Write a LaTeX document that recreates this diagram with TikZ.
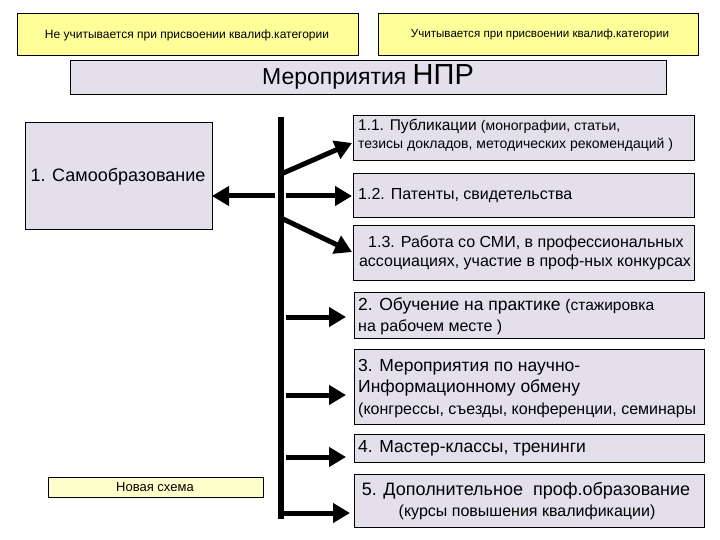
\documentclass[tikz,border=0pt]{standalone}
\usepackage{fontspec}
\setmainfont{Liberation Sans}
\usetikzlibrary{arrows.meta}
\definecolor{yel}{HTML}{FFFF99}
\definecolor{lyel}{HTML}{FFFFCC}
\definecolor{lav}{HTML}{E3E0EC}
\newcommand\myfs[1]{\fontsize{#1}{#1}\selectfont}
\begin{document}
\begin{tikzpicture}[x=1pt,y=-1pt,
  lbox/.style={draw=black, line width=0.9pt, fill=lav},
  ybox/.style={draw=black, line width=0.9pt, fill=yel},
  nbox/.style={draw=black, line width=0.9pt, fill=lyel},
  txt/.style={inner sep=0pt, anchor=west},
  ctxt/.style={inner sep=0pt},
  arr/.style={line width=5pt, -{Triangle[length=17pt,width=19pt]}},
  bar/.style={line width=6pt}]
\useasboundingbox[fill=white] (0,0) rectangle (720,540);
% top boxes
\draw[ybox] (17,13) rectangle (358,55);
\draw[ybox] (378,13) rectangle (698,55);
\node[ctxt] (t1) at (187,35) {\myfs{12}Не учитывается при присвоении квалиф.категории};
\node[ctxt] (t2) at (540,35) {\myfs{11.6}Учитывается при присвоении квалиф.категории};
% header
\draw[lbox] (70,60) rectangle (666,94);
\node[ctxt] (npr) at (368,77) {\myfs{23}Мероприятия \myfs{29}НПР};
% self-education
\draw[lbox] (25,122) rectangle (212,229);
\node[ctxt] (self) at (118,177) {\myfs{18}1. Самообразование};
\coordinate (selfE) at (212,196);
% right boxes
\draw[lbox] (353,115) rectangle (694,160);
\node[txt] (a1) at (358,126) {\myfs{15.5}1.1. Публикации \myfs{14}(монографии, статьи,};
\node[txt] (a2) at (358,145) {\myfs{14}тезисы докладов, методических рекомендаций )};
\coordinate (b11W) at (352,143);
\draw[lbox] (353,173) rectangle (694,217);
\node[txt] (b) at (358,196) {\myfs{16}1.2. Патенты, свидетельства};
\coordinate (b12W) at (352,196);
\draw[lbox] (353,225) rectangle (694,280);
\node[ctxt] (c1) at (526,243) {\myfs{16}1.3. Работа со СМИ, в профессиональных};
\node[ctxt] (c2) at (525,262) {\myfs{16}ассоциациях, участие в проф-ных конкурсах};
\coordinate (b13W) at (352,252);
\draw[lbox] (354,292) rectangle (704,338);
\node[txt] (d1) at (358,306) {\myfs{17.5}2. Обучение на практике \myfs{15.5}(стажировка};
\node[txt] (d2) at (358,327) {\myfs{16}на рабочем месте )};
\coordinate (b2W) at (346,317);
\draw[lbox] (354,349) rectangle (704,424);
\node[txt] (e1) at (358,367) {\myfs{17.5}3. Мероприятия по научно-};
\node[txt] (e2) at (358,388) {\myfs{17.5}Информационному обмену};
\coordinate (b3W) at (346,395);
\node[txt] (e3) at (358,410) {\myfs{16}(конгрессы, съезды, конференции, семинары};
\draw[lbox] (354,434) rectangle (704,462);
\node[txt] (f) at (358,448) {\myfs{17.5}4. Мастер-классы, тренинги};
\coordinate (b4W) at (346,457);
\draw[lbox] (354,474) rectangle (704,527);
\node[ctxt] (g1) at (526,491) {\myfs{18}5. Дополнительное \ проф.образование};
\node[ctxt] (g2) at (527,512) {\myfs{16}(курсы повышения квалификации)};
\coordinate (b5W) at (350,513);
% new scheme
\draw[nbox] (48,477) rectangle (263,497);
\node[ctxt] (ns) at (155,487) {\myfs{13}Новая схема};
% bar
\coordinate (barT) at (281,117);
\coordinate (barB) at (281,519);
\draw[bar] (barT) -- (barB);
% arrows
\coordinate (s11) at (281,174);
\coordinate (sL) at (275,196);
\coordinate (sR) at (286,196);
\coordinate (s13) at (281,218);
\coordinate (s2) at (286,317);
\coordinate (s3) at (286,395);
\coordinate (s4) at (286,457);
\coordinate (s5) at (278,513);
\draw[arr] (sL) -- (selfE);
\draw[arr] (sR) -- (b12W);
\draw[arr] (s11) -- (b11W);
\draw[arr] (s13) -- (b13W);
\draw[arr] (s2) -- (b2W);
\draw[arr] (s3) -- (b3W);
\draw[arr] (s4) -- (b4W);
\draw[arr] (s5) -- (b5W);
\end{tikzpicture}
\end{document}
